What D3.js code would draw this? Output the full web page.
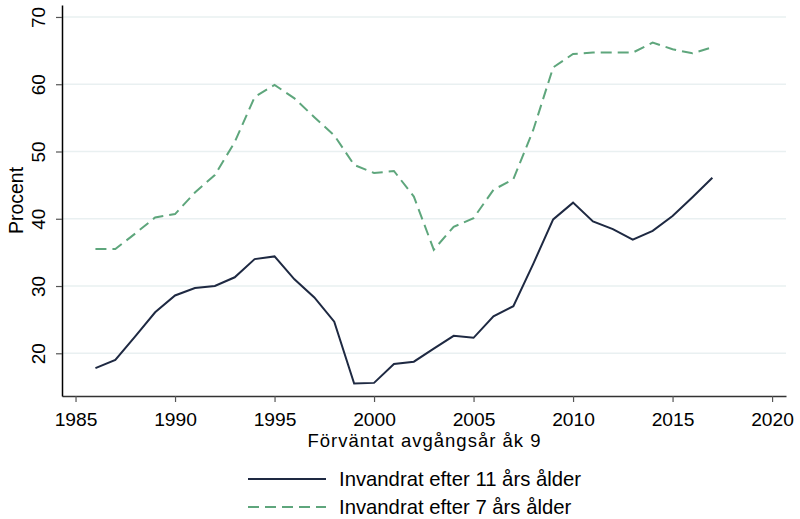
<!DOCTYPE html>
<html>
<head>
<meta charset="utf-8">
<script src="https://cdn.jsdelivr.net/npm/d3@7"></script>
<style>
    body { margin: 0; background: #fff; }
    svg { display: block; font-family: "Liberation Sans", Arial, sans-serif; }
</style>
</head>
<body>
<div id="chart"></div>
<script>
// Data
const years = d3.range(1986, 2018);
const after11 = [17.8, 19.0, 22.5, 26.1, 28.6, 29.7, 30.0, 31.3, 34.0, 34.4,
                 31.0, 28.3, 24.7, 15.5, 15.6, 18.4, 18.75, 20.7, 22.6, 22.3,
                 25.5, 27.0, 33.3, 39.9, 42.4, 39.6, 38.45, 36.9, 38.2, 40.4,
                 43.2, 46.1];
const after7 = [35.5, 35.5, 37.8, 40.2, 40.7, 43.9, 46.5, 51.4, 58.1, 59.9,
                57.9, 55.1, 52.4, 48.0, 46.8, 47.1, 43.3, 35.4, 38.8, 40.1,
                44.3, 45.9, 53.2, 62.5, 64.5, 64.7, 64.7, 64.7, 66.2, 65.2,
                64.6, 65.5];
const xTicks = [1985, 1990, 1995, 2000, 2005, 2010, 2015, 2020];
const yTicks = [20, 30, 40, 50, 60, 70];
const seriesNames = ['Invandrat efter 11 års ålder', 'Invandrat efter 7 års ålder'];

const width = 800;
const height = 519;
const plot = { left: 62, right: 786, top: 5, bottom: 396 };

const navy = '#1e2942';
const green = '#5ea67c';

const svg = d3.select('#chart')
    .append('svg')
    .attr('width', width)
    .attr('height', height);

const x = d3.scaleLinear()
    .domain([1984.32, 2020.70])
    .range([plot.left, plot.right]);

const y = d3.scaleLinear()
    .domain([13.65, 71.78])
    .range([plot.bottom, plot.top]);

// Gridlines
svg.append('g')
    .selectAll('line')
    .data(yTicks)
    .enter()
    .append('line')
    .attr('x1', plot.left)
    .attr('x2', plot.right)
    .attr('y1', d => y(d))
    .attr('y2', d => y(d))
    .style('stroke', '#e9f0f1')
    .style('stroke-width', 1.5);

// X axis
const xAxis = svg.append('g')
    .attr('transform', `translate(0,${plot.bottom})`)
    .call(d3.axisBottom(x).tickValues(xTicks).tickFormat(d3.format('d')).tickSize(6).tickSizeOuter(0));
xAxis.select('.domain').style('stroke', '#333').style('stroke-width', 1.5);
xAxis.selectAll('.tick line').style('stroke', '#555').style('stroke-width', 1.2);
xAxis.selectAll('text')
    .attr('y', 0)
    .attr('dy', null)
    .attr('transform', 'translate(0,30) scale(1.04,1)')
    .style('font-size', '18.5px')
    .style('fill', '#000');

// Y axis
const yAxis = svg.append('g')
    .attr('transform', `translate(${plot.left},0)`)
    .call(d3.axisLeft(y).tickValues(yTicks).tickSize(6).tickSizeOuter(0));
yAxis.select('.domain').style('stroke', '#000').style('stroke-width', 1.5);
yAxis.selectAll('.tick line').style('stroke', '#555').style('stroke-width', 1.2);
yAxis.selectAll('text')
    .attr('x', 0)
    .attr('dy', null)
    .attr('text-anchor', 'middle')
    .attr('transform', 'translate(-17,0) rotate(-90)')
    .style('font-size', '19px')
    .style('fill', '#000');

// Axis titles
svg.append('text')
    .attr('x', (plot.left + plot.right) / 2)
    .attr('y', 447)
    .attr('text-anchor', 'middle')
    .style('font-size', '18.5px')
    .attr('textLength', 233)
    .text('Förväntat avgångsår åk 9');

svg.append('text')
    .attr('transform', `translate(23,${(plot.top + plot.bottom) / 2}) rotate(-90)`)
    .attr('text-anchor', 'middle')
    .style('font-size', '19.5px')
    .text('Procent');

// Lines
const line = values => d3.line()
    .x((d, i) => x(years[i]))
    .y(d => y(d))(values);

svg.append('path')
    .attr('d', line(after7))
    .attr('fill', 'none')
    .attr('stroke', green)
    .attr('stroke-width', 2)
    .attr('stroke-dasharray', '11,6');

svg.append('path')
    .attr('d', line(after11))
    .attr('fill', 'none')
    .attr('stroke', navy)
    .attr('stroke-width', 2);

// Legend
const legend = svg.append('g')
    .attr('transform', 'translate(248,479)');

legend.append('line')
    .attr('x1', 0).attr('x2', 78)
    .attr('y1', 0).attr('y2', 0)
    .style('stroke', navy)
    .style('stroke-width', 2);

legend.append('line')
    .attr('x1', 0).attr('x2', 78)
    .attr('y1', 28).attr('y2', 28)
    .style('stroke', green)
    .style('stroke-width', 2)
    .style('stroke-dasharray', '11,6');

legend.selectAll('.legend-text')
    .data(seriesNames)
    .enter()
    .append('text')
    .attr('class', 'legend-text')
    .attr('x', 91)
    .attr('y', (d, i) => i * 28 + 7)
    .style('font-size', '20.3px')
    .text(d => d);
</script>
</body>
</html>
